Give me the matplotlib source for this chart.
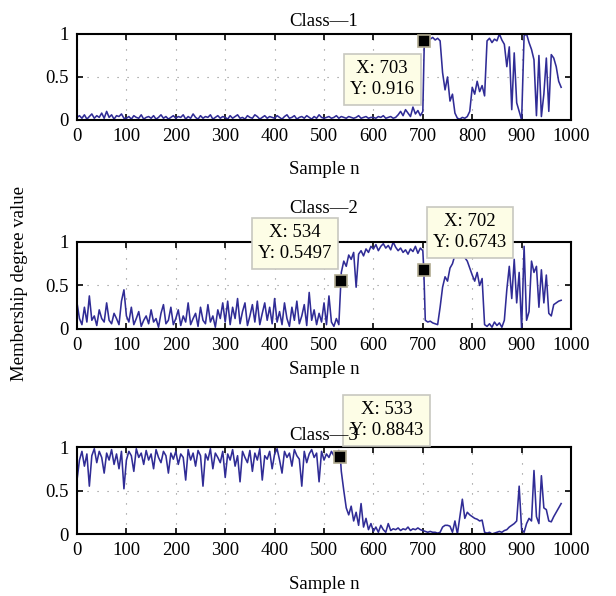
import numpy as np
import matplotlib
matplotlib.use('Agg')
import matplotlib.pyplot as plt

class1 = [
    0.03, 0.05, 0.02, 0.06, 0.01, 0.04, 0.07, 0.02, 0.05, 0.03, 0.08, 0.02, 0.10, 0.03, 0.06, 0.01, 0.05, 0.04, 0.07, 0.02,
    0.02, 0.04, 0.01, 0.05, 0.03, 0.02, 0.06, 0.01, 0.03, 0.04, 0.02, 0.05, 0.01, 0.03, 0.06, 0.02, 0.04, 0.01, 0.03, 0.05,
    0.02, 0.04, 0.03, 0.06, 0.01, 0.04, 0.02, 0.07, 0.03, 0.01, 0.05, 0.02, 0.04, 0.03, 0.06, 0.01, 0.03, 0.05, 0.02, 0.04,
    0.03, 0.01, 0.05, 0.02, 0.04, 0.06, 0.02, 0.03, 0.01, 0.05, 0.03, 0.02, 0.06, 0.04, 0.01, 0.03, 0.05, 0.02, 0.04, 0.03,
    0.02, 0.05, 0.03, 0.01, 0.04, 0.06, 0.02, 0.03, 0.05, 0.01, 0.03, 0.04, 0.02, 0.05, 0.03, 0.01, 0.04, 0.02, 0.06, 0.03,
    0.02, 0.03, 0.04, 0.02, 0.03, 0.05, 0.02, 0.04, 0.03, 0.02, 0.04, 0.03, 0.02, 0.03, 0.05, 0.02, 0.03, 0.04, 0.02, 0.03,
    0.03, 0.02, 0.04, 0.03, 0.05, 0.02, 0.03, 0.04, 0.02, 0.03, 0.06, 0.10, 0.05, 0.12, 0.08, 0.04, 0.15, 0.07, 0.11, 0.05,
    0.10, 0.93, 0.95, 0.94, 0.96, 0.93, 0.95, 0.92, 0.55, 0.35, 0.50, 0.22, 0.30, 0.08, 0.02, 0.01, 0.03, 0.02, 0.04, 0.10,
    0.38, 0.30, 0.45, 0.33, 0.40, 0.28, 0.92, 0.95, 0.90, 0.94, 0.92, 1.00, 0.93, 0.88, 0.62, 0.85, 0.12, 0.78, 0.20, 0.10,
    0.00, 0.98, 1.00, 0.90, 0.82, 0.70, 0.05, 0.75, 0.04, 0.30, 0.72, 0.10, 0.76, 0.72, 0.62, 0.45, 0.38,
]

class2 = [
    0.30, 0.12, 0.05, 0.25, 0.08, 0.38, 0.10, 0.15, 0.04, 0.22, 0.12, 0.08, 0.30, 0.10, 0.06, 0.18, 0.12, 0.05, 0.32, 0.45,
    0.15, 0.08, 0.25, 0.05, 0.12, 0.20, 0.03, 0.10, 0.15, 0.06, 0.22, 0.08, 0.12, 0.02, 0.18, 0.28, 0.06, 0.10, 0.25, 0.05,
    0.12, 0.22, 0.04, 0.15, 0.08, 0.30, 0.05, 0.12, 0.18, 0.03, 0.25, 0.10, 0.06, 0.28, 0.08, 0.15, 0.02, 0.22, 0.12, 0.30,
    0.08, 0.32, 0.05, 0.25, 0.12, 0.35, 0.06, 0.20, 0.30, 0.04, 0.15, 0.28, 0.08, 0.32, 0.05, 0.18, 0.30, 0.10, 0.25, 0.06,
    0.35, 0.08, 0.20, 0.05, 0.30, 0.12, 0.03, 0.25, 0.10, 0.32, 0.06, 0.15, 0.28, 0.04, 0.42, 0.10, 0.22, 0.05, 0.18, 0.08,
    0.30, 0.05, 0.38, 0.08, 0.03, 0.12, 0.05, 0.65, 0.78, 0.72, 0.85, 0.80, 0.88, 0.48, 0.86, 0.90, 0.84, 0.92, 0.88, 0.95,
    0.92, 0.97, 0.90, 0.95, 0.98, 0.93, 0.96, 0.91, 1.00, 0.94, 0.90, 0.93, 0.88, 0.91, 0.86, 0.92, 0.89, 0.95, 0.87, 0.93,
    0.90, 0.10, 0.08, 0.09, 0.07, 0.06, 0.05, 0.25, 0.48, 0.60, 0.55, 0.70, 0.75, 0.85, 0.92, 0.88, 0.97, 0.82, 0.78, 0.70,
    0.62, 0.55, 0.65, 0.50, 0.58, 0.05, 0.03, 0.06, 0.02, 0.08, 0.04, 0.07, 0.02, 0.10, 0.45, 0.72, 0.35, 0.80, 0.30, 0.65,
    0.00, 0.95, 0.10, 0.20, 0.78, 0.65, 0.72, 0.25, 0.68, 0.30, 0.62, 0.18, 0.15, 0.28, 0.30, 0.32, 0.33,
]

class3 = [
    0.62, 0.85, 0.95, 0.78, 0.92, 0.55, 0.90, 0.98, 0.82, 0.95, 0.88, 0.70, 0.93, 0.85, 0.97, 0.80, 0.92, 0.75, 0.95, 0.52,
    0.85, 0.95, 0.90, 0.72, 0.98, 0.88, 0.93, 0.80, 0.96, 0.85, 0.92, 0.75, 0.97, 0.88, 0.82, 0.95, 0.90, 0.70, 0.93, 0.86,
    0.95, 0.80, 0.92, 0.88, 0.62, 0.97, 0.85, 0.93, 0.78, 0.96, 0.90, 0.55, 0.92, 0.85, 0.98, 0.75, 0.93, 0.88, 0.82, 0.95,
    0.65, 0.92, 0.85, 0.97, 0.78, 0.90, 0.60, 0.95, 0.88, 0.82, 0.96, 0.72, 0.93, 0.85, 0.98, 0.62, 0.90, 0.86, 0.95, 0.75,
    0.92, 0.98, 0.85, 0.70, 0.95, 0.88, 0.93, 0.78, 0.97, 0.90, 0.86, 0.55, 0.95, 0.82, 0.92, 0.97, 0.88, 0.93, 0.60, 0.95,
    0.85, 0.92, 0.88, 0.95, 0.90, 0.93, 0.96, 0.72, 0.50, 0.30, 0.22, 0.32, 0.15, 0.25, 0.10, 0.35, 0.08, 0.18, 0.05, 0.12,
    0.03, 0.08, 0.02, 0.10, 0.05, 0.02, 0.12, 0.04, 0.06, 0.05, 0.07, 0.04, 0.06, 0.05, 0.08, 0.04, 0.06, 0.05, 0.07, 0.05,
    0.04, 0.03, 0.02, 0.03, 0.02, 0.02, 0.01, 0.02, 0.08, 0.10, 0.10, 0.09, 0.02, 0.15, 0.00, 0.20, 0.40, 0.18, 0.25, 0.22,
    0.20, 0.18, 0.17, 0.15, 0.16, 0.02, 0.01, 0.02, 0.00, 0.01, 0.02, 0.03, 0.02, 0.04, 0.05, 0.08, 0.10, 0.12, 0.15, 0.55,
    0.05, 0.02, 0.12, 0.18, 0.15, 0.73, 0.20, 0.12, 0.67, 0.30, 0.28, 0.15, 0.14, 0.20, 0.25, 0.30, 0.35,
]

# MATLAB data tips shown on each panel
tips1_x = [703]
tips1_y = [0.916]
tips2_x = [534, 702]
tips2_y = [0.5497, 0.6743]
tips3_x = [533]
tips3_y = [0.8843]

titles = ['Class\u20141', 'Class\u20142', 'Class\u20143']
xticks = list(range(0, 1001, 100))
yticks = [0, 0.5, 1]
ytick_labels = ['0', '0.5', '1']

plt.rcParams['font.family'] = ['Liberation Serif', 'DejaVu Serif']
FS = 13.5
LINE = '#302c96'

fig = plt.figure(figsize=(6.16, 5.96), dpi=100)
ax1 = fig.add_axes([0.125, 0.7987, 0.802, 0.1443])
ax2 = fig.add_axes([0.125, 0.448, 0.802, 0.146])
ax3 = fig.add_axes([0.125, 0.104, 0.802, 0.146])

panels = [
    (ax1, class1, tips1_x, tips1_y, [(-42, -38)], 6, 11),
    (ax2, class2, tips2_x, tips2_y, [(-46, 38), (46, 38)], 21, 5),
    (ax3, class3, tips3_x, tips3_y, [(46, 37)], 5, 12),
]

for i, (ax, vals, tx, ty, offsets, tpad, lpad) in enumerate(panels):
    n = np.arange(len(vals)) * 5
    y = np.array(vals, dtype=float)
    # put the data-tip samples into the series so the line passes through them
    xs = np.concatenate([n, tx])
    ys = np.concatenate([y, ty])
    order = np.argsort(xs, kind='stable')
    ax.plot(xs[order], ys[order], color=LINE, linewidth=1.15, zorder=2)

    ax.set_xlim(0, 1000)
    ax.set_ylim(0, 1)
    ax.set_xticks(xticks)
    ax.set_yticks(yticks)
    ax.set_yticklabels(ytick_labels)
    ax.tick_params(direction='in', top=True, right=True, length=4, width=1.2,
                   labelsize=FS)
    ax.tick_params(axis='x', pad=6)
    ax.tick_params(axis='y', pad=6)
    ax.grid(True, color='#888888', linestyle=(0, (1, 8)), linewidth=0.8)
    for sp in ax.spines.values():
        sp.set_linewidth(1.5)
    ax.set_title(titles[i], fontsize=FS, pad=tpad)
    ax.set_xlabel('Sample n', fontsize=FS, labelpad=lpad)

    for xv, yv, off in zip(tx, ty, offsets):
        ax.plot([xv], [yv], marker='s', markersize=8, color='black',
                markeredgecolor='#b0aa90', markeredgewidth=1.2, zorder=4)
        ax.annotate(f'X: {xv}\nY: {yv:.4g}', xy=(xv, yv),
                    xytext=off, textcoords='offset pixels',
                    ha='center', va='center', fontsize=FS, linespacing=1.3,
                    bbox=dict(boxstyle='square,pad=0.35', facecolor='#fdfde6',
                              edgecolor='#c8c8c0', linewidth=1.2),
                    annotation_clip=False, zorder=3)

fig.text(20 / 616, 1 - 283 / 596, 'Membership degree value', rotation=90,
         ha='center', va='center', fontsize=FS)

fig.savefig('out.png', dpi=100)
